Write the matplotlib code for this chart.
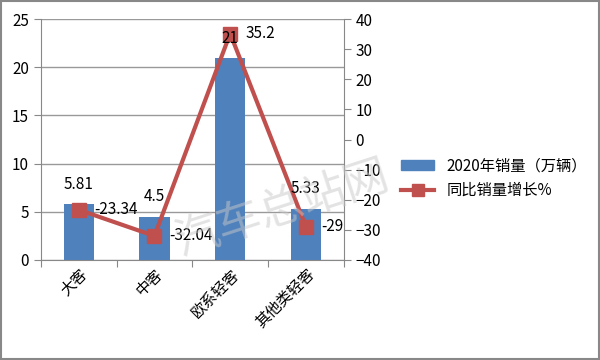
import numpy as np
import matplotlib.pyplot as plt
from matplotlib.lines import Line2D
from matplotlib.patches import Patch

plt.rcParams['font.family'] = ['Noto Sans CJK SC', 'DejaVu Sans']

categories = ["大客", "中客", "欧系轻客", "其他类轻客"]
sales = [5.81, 4.5, 21, 5.33]
growth = [-23.34, -32.04, 35.2, -29]
sales_labels = ["5.81", "4.5", "21", "5.33"]
growth_labels = ["-23.34", "-32.04", "35.2", "-29"]

blue = "#4f81bd"
red = "#c0504d"

fig = plt.figure(figsize=(6, 3.6), dpi=100)
fig.patches.append(plt.Rectangle((0.002, 0.003), 0.996, 0.994, transform=fig.transFigure,
                                 fill=False, edgecolor="#888888", lw=1.5))
ax = fig.add_axes([0.068, 0.278, 0.505, 0.669])
x = np.arange(len(categories))
ax.bar(x, sales, width=0.4, color=blue, zorder=2)
ax.set_xlim(-0.5, 3.5)
ax.set_ylim(0, 25)
ax.set_yticks(range(0, 26, 5))
ax.yaxis.grid(True, color="#999999", lw=1, zorder=0)
ax.set_xticks(np.arange(-0.5, 4, 1))
ax.set_xticklabels([])
ax.set_xticks(x, minor=True)
ax.set_xticklabels(categories, minor=True, rotation=45, ha="right", va="top",
                   rotation_mode="anchor", fontsize=11)
ax.tick_params(axis="x", which="minor", length=0, pad=4)
ax.tick_params(axis="x", which="major", length=5, direction="out", color="#888888")
ax.tick_params(axis="y", length=5, direction="out", color="#888888", labelsize=11)
for s in ["top", "right"]:
    ax.spines[s].set_visible(False)
for s in ["left", "bottom"]:
    ax.spines[s].set_color("#888888")

ax2 = ax.twinx()
ax2.plot(x, growth, color=red, lw=3, marker="s", markersize=10, zorder=3)
ax2.set_ylim(-40, 40)
ax2.set_yticks(range(-40, 41, 10))
ax2.tick_params(axis="y", length=5, direction="out", color="#888888", labelsize=11)
for s in ["top", "left", "bottom"]:
    ax2.spines[s].set_visible(False)
ax2.spines["right"].set_color("#888888")
for xi, v, t in zip(x, growth, growth_labels):
    ax2.annotate(t, (xi, v), xytext=(11, 0), textcoords="offset points",
                 ha="left", va="center", fontsize=11, zorder=5)
# bar labels drawn on top axes so they sit over the line
for xi, v, t in zip(x, sales, sales_labels):
    ax2.annotate(t, (xi, v), xycoords=ax.transData, xytext=(0, 8),
                 textcoords="offset points", ha="center", va="bottom",
                 fontsize=11, zorder=6)

fig.text(0.47, 0.42, "汽车总站网", fontsize=32, color="#c8c8c8", alpha=0.5,
         rotation=18, ha="center", va="center")

handles = [Patch(color=blue), Line2D([], [], color=red, lw=3, marker="s", markersize=8)]
fig.legend(handles, ["2020年销量（万辆）", "同比销量增长%"], loc="center left",
           bbox_to_anchor=(0.645, 0.505), frameon=False, fontsize=11,
           handlelength=2.2, labelspacing=0.5)

fig.savefig("out.png", dpi=100)
